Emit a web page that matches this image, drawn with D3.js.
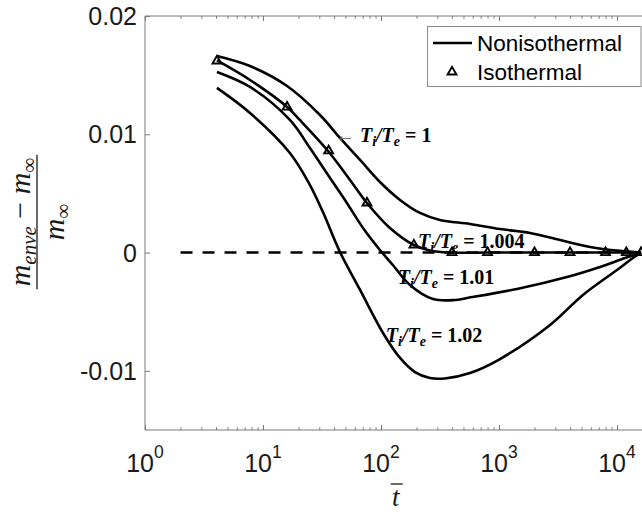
<!DOCTYPE html>
<html>
<head>
<meta charset="utf-8">
<script src="https://cdnjs.cloudflare.com/ajax/libs/d3/7.8.5/d3.min.js"></script>
<style>
body { margin: 0; background: #fff; }
svg { display: block; }
</style>
</head>
<body>
<svg id="chart" width="642" height="512"></svg>
<script>
// ---- data ----
// nonisothermal curves, one per temperature ratio
const tA = [4.07, 7.76, 16, 30.4, 44.9, 66.5, 98, 145, 214, 316, 568, 1020, 1830, 3300, 5930, 10600, 16000];
const vA = [0.01662, 0.01577, 0.01408, 0.01163, 0.00969, 0.00783, 0.00597, 0.00445, 0.00335, 0.00276, 0.00242, 0.00199, 0.00166, 0.00106, 0.00047, 0.00014, 0];

const tB = [4.07, 7.76, 16, 20.5, 35.6, 54.6, 76, 119, 190, 260, 384, 800, 2000, 4000, 8000, 16000];
const vB = [0.01624, 0.01459, 0.01231, 0.01121, 0.00859, 0.00614, 0.00419, 0.00208, 0.00064, 0.00018, 0, 0, 0, 0, 0, 0];

const tC = [4.07, 7.76, 16.9, 25, 37, 49.5, 70.4, 98, 126, 176, 276, 424, 536, 1420, 3770, 7180, 11700, 16000];
const vC = [0.01527, 0.01400, 0.01121, 0.00884, 0.00631, 0.00445, 0.00208, 0.00022, -0.00105, -0.00274, -0.00393, -0.00401, -0.00384, -0.00308, -0.00207, -0.00122, -0.00046, 0];

const tD = [4.07, 7.76, 16.9, 25, 32.2, 44.9, 66.5, 104, 145, 194, 260, 347, 568, 1020, 2710, 5150, 10000, 13660, 16000];
const vD = [0.01392, 0.01180, 0.00842, 0.00571, 0.00343, 0.00005, -0.00316, -0.00680, -0.00891, -0.01010, -0.01060, -0.01064, -0.01018, -0.00900, -0.00612, -0.00358, -0.00147, -0.00046, 0];

// isothermal markers
const isoT = [4.07, 16, 36, 76, 190, 400, 800, 2000, 4000, 8000, 12000, 16000];
const isoV = [0.0162, 0.0123, 0.0086, 0.0042, 0.00064, 0, 0, 0, 0, 0, 0, 0];

// reference (dashed) line
const refT = [2, 20000];
const refV = [0, 0];

// curve annotations: ratio text and anchor in data units
const labelText = ["1", "1.004", "1.01", "1.02"];
const labelT = [40.7, 206, 139, 110];
const labelV = [0.00932, 0.00042, -0.00263, -0.00754];

const xMajor = [1, 10, 100, 1000, 10000];
const xExp = ["0", "1", "2", "3", "4"];
const yTicks = [0.02, 0.01, 0, -0.01];

// ---- layout ----
const svg = d3.select("#chart");
const plotL = 145, plotR = 652.5, plotT = 16, plotB = 430;
const axisColor = "#7a7a7a";
const textColor = "#1a1a1a";
const sans = "'Liberation Sans', Arial, Helvetica, sans-serif";
const serif = "'Liberation Serif', 'Times New Roman', serif";

const x = d3.scaleLog().domain([1, 20000]).range([plotL, plotR]);
const y = d3.scaleLinear().domain([-0.015, 0.02]).range([plotB, plotT]);

// minor ticks for the log axis
const xMinor = [];
for (let k = 0; k <= 4; k++) {
  for (let m = 2; m <= 9; m++) {
    const v = m * Math.pow(10, k);
    if (v <= 20000) xMinor.push(v);
  }
}

// axes box lines
svg.append("line").attr("x1", plotL).attr("x2", plotR).attr("y1", plotB).attr("y2", plotB)
  .attr("stroke", axisColor).attr("stroke-width", 1);
svg.append("line").attr("x1", plotL).attr("x2", plotR).attr("y1", plotT).attr("y2", plotT)
  .attr("stroke", axisColor).attr("stroke-width", 1);
svg.append("line").attr("x1", plotL).attr("x2", plotL).attr("y1", plotT).attr("y2", plotB)
  .attr("stroke", axisColor).attr("stroke-width", 1);

const styleAxis = g => {
  g.select(".domain").remove();
  g.selectAll(".tick line").attr("stroke", axisColor);
  g.selectAll(".tick text").remove();
};

// bottom + top ticks (inward)
svg.append("g").attr("transform", `translate(0,${plotB})`)
  .call(d3.axisBottom(x).tickValues(xMajor).tickSize(-5).tickFormat(""))
  .call(styleAxis);
svg.append("g").attr("transform", `translate(0,${plotB})`)
  .call(d3.axisBottom(x).tickValues(xMinor).tickSize(-2.7).tickFormat(""))
  .call(styleAxis);
svg.append("g").attr("transform", `translate(0,${plotT})`)
  .call(d3.axisTop(x).tickValues(xMajor).tickSize(-5).tickFormat(""))
  .call(styleAxis);
svg.append("g").attr("transform", `translate(0,${plotT})`)
  .call(d3.axisTop(x).tickValues(xMinor).tickSize(-2.7).tickFormat(""))
  .call(styleAxis);
svg.append("g").attr("transform", `translate(${plotL},0)`)
  .call(d3.axisLeft(y).tickValues(yTicks).tickSize(-5).tickFormat(""))
  .call(styleAxis);

// y tick labels
svg.selectAll("text.ylab").data(yTicks).enter().append("text")
  .attr("class", "ylab")
  .attr("x", plotL - 8)
  .attr("y", d => y(d))
  .attr("dy", "0.36em")
  .attr("text-anchor", "end")
  .attr("font-family", sans).attr("font-size", 25).attr("fill", textColor)
  .text(d => String(d));

// x tick labels 10^k
const xl = svg.selectAll("text.xlab").data(xMajor).enter().append("text")
  .attr("class", "xlab")
  .attr("x", d => x(d))
  .attr("y", 472)
  .attr("text-anchor", "middle")
  .attr("font-family", sans).attr("font-size", 25).attr("fill", textColor);
xl.append("tspan").text("10");
xl.append("tspan").attr("dy", -14).attr("font-size", 17.5).text((d, i) => xExp[i]);

// x axis title: t with bar
const tx = (plotL + plotR) / 2 - 3;
svg.append("text").attr("x", tx).attr("y", 506).attr("text-anchor", "middle")
  .attr("font-family", serif).attr("font-style", "italic").attr("font-size", 27)
  .attr("fill", textColor).text("t");
svg.append("line").attr("x1", tx - 5).attr("x2", tx + 7).attr("y1", 484).attr("y2", 484)
  .attr("stroke", textColor).attr("stroke-width", 1.3);

// y axis title: fraction rotated
const yt = svg.append("g").attr("transform", "translate(37,222) rotate(-90)");
const num = yt.append("text").attr("x", 0).attr("y", -7).attr("text-anchor", "middle")
  .attr("font-family", serif).attr("font-size", 30).attr("fill", textColor);
num.append("tspan").attr("font-style", "italic").text("m");
num.append("tspan").attr("font-style", "italic").attr("font-size", 21).attr("dy", 6).text("enve");
num.append("tspan").attr("dy", -6).text(" \u2212 ");
num.append("tspan").attr("font-style", "italic").text("m");
num.append("tspan").attr("font-size", 21).attr("dy", 6).text("\u221E");
const den = yt.append("text").attr("x", 0).attr("y", 27).attr("text-anchor", "middle")
  .attr("font-family", serif).attr("font-size", 30).attr("fill", textColor);
den.append("tspan").attr("font-style", "italic").text("m");
den.append("tspan").attr("font-size", 21).attr("dy", 6).text("\u221E");
const barLen = num.node().getComputedTextLength() + 6;
yt.append("line").attr("x1", -barLen / 2).attr("x2", barLen / 2).attr("y1", 0).attr("y2", 0)
  .attr("stroke", textColor).attr("stroke-width", 1.3);

// ---- plot content ----
const plot = svg.append("g");
const line = d3.line().x(d => x(d[0])).y(d => y(d[1])).curve(d3.curveCatmullRom.alpha(0.5));

plot.append("path")
  .attr("d", line(d3.zip(refT, refV)))
  .attr("fill", "none").attr("stroke", "#000").attr("stroke-width", 2.5)
  .attr("stroke-dasharray", "12,10");

const curves = [[tA, vA], [tB, vB], [tC, vC], [tD, vD]];
plot.selectAll("path.noniso").data(curves).enter().append("path")
  .attr("class", "noniso")
  .attr("d", c => line(d3.zip(c[0], c[1])))
  .attr("fill", "none").attr("stroke", "#000").attr("stroke-width", 2.6)
  .attr("stroke-linejoin", "round");

const tri = d3.symbol(d3.symbolTriangle, 34);
plot.selectAll("path.iso").data(d3.zip(isoT, isoV)).enter().append("path")
  .attr("class", "iso")
  .attr("d", tri)
  .attr("transform", d => `translate(${x(d[0])},${y(d[1])})`)
  .attr("fill", "none").attr("stroke", "#000").attr("stroke-width", 1.9);

// annotations
labelText.forEach((txt, i) => {
  const t = plot.append("text")
    .attr("x", x(labelT[i])).attr("y", y(labelV[i]))
    .attr("font-family", serif).attr("font-weight", "bold").attr("font-size", 20)
    .attr("fill", "#000");
  if (i === 0) t.append("tspan").attr("font-weight", "normal").attr("fill", "#555").text("\u2190 ");
  t.append("tspan").attr("font-style", "italic").text("T");
  t.append("tspan").attr("font-style", "italic").attr("font-size", 14).attr("dy", 4).text("i");
  t.append("tspan").attr("dy", -4).attr("font-style", "italic").text("/");
  t.append("tspan").attr("font-style", "italic").text("T");
  t.append("tspan").attr("font-style", "italic").attr("font-size", 14).attr("dy", 4).text("e");
  t.append("tspan").attr("dy", -4).text(" = " + txt);
});

// ---- legend ----
const lg = svg.append("g");
lg.append("rect").attr("x", 427.5).attr("y", 26.5).attr("width", 213.5).attr("height", 60)
  .attr("fill", "#fff").attr("stroke", "#8a8a8a").attr("stroke-width", 1);
lg.append("line").attr("x1", 433).attr("x2", 472).attr("y1", 43).attr("y2", 43)
  .attr("stroke", "#000").attr("stroke-width", 2.6);
lg.append("path").attr("d", tri).attr("transform", "translate(452,72)")
  .attr("fill", "none").attr("stroke", "#000").attr("stroke-width", 1.9);
lg.append("text").attr("x", 477).attr("y", 51)
  .attr("font-family", sans).attr("font-size", 22.5).attr("fill", "#000").text("Nonisothermal");
lg.append("text").attr("x", 477).attr("y", 80)
  .attr("font-family", sans).attr("font-size", 22.5).attr("fill", "#000").text("Isothermal");
</script>
</body>
</html>
